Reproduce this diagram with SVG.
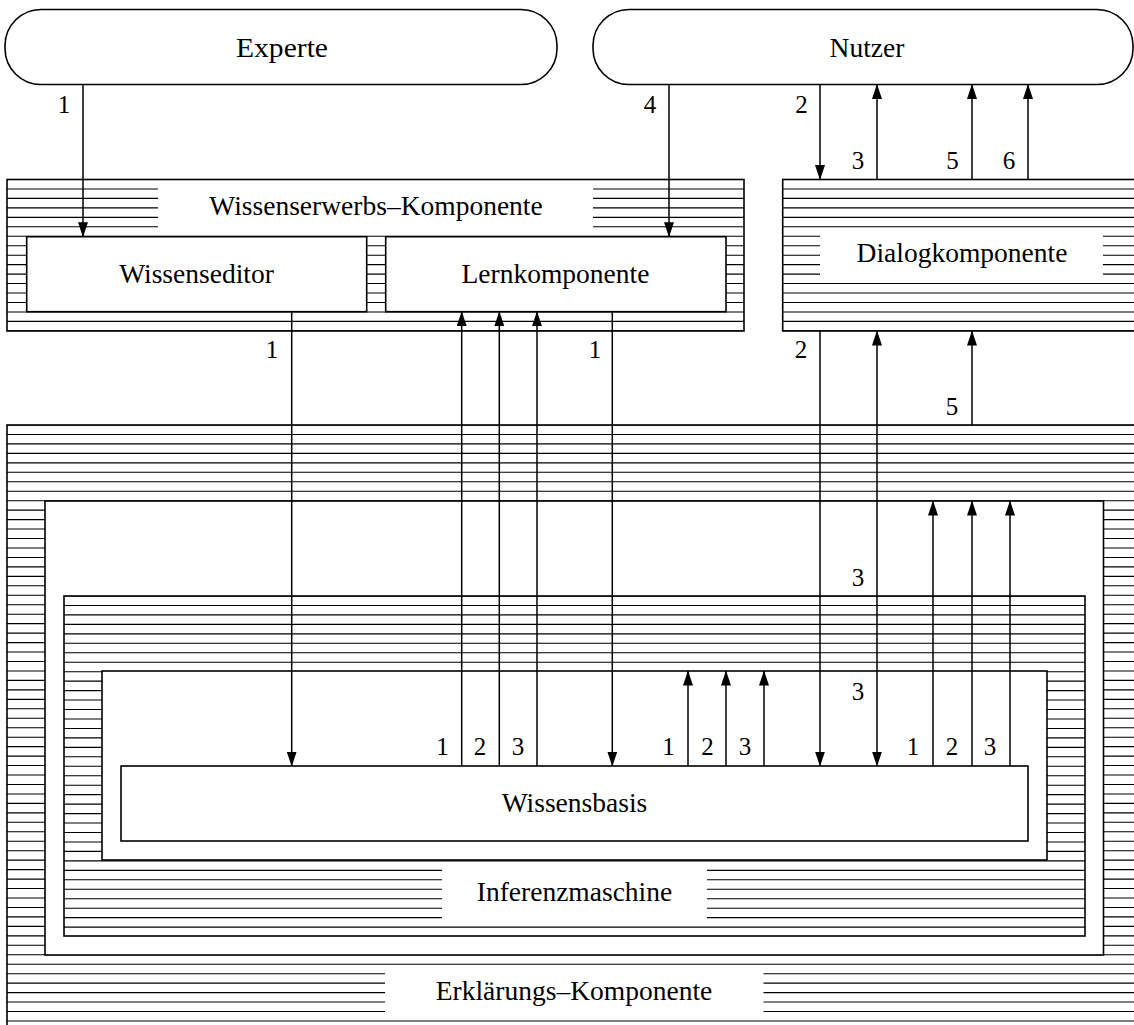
<svg xmlns="http://www.w3.org/2000/svg" width="1134" height="1025" viewBox="0 0 1134 1025">
  <defs>
    <style>
      .box{fill:#fff;stroke:#000;stroke-width:1.6}
      .frame{fill:none;stroke:#000;stroke-width:1.6}
      .hatch{fill:none;stroke:#000;stroke-dasharray:1.1 8.36;stroke-dashoffset:0.55}
      .gap{fill:#fff;stroke:none}
      .con{fill:none;stroke:#000;stroke-width:1.5;marker-end:url(#arr)}
    </style>
    <marker id="arr" viewBox="0 0 15 10" refX="14.5" refY="5" markerWidth="15" markerHeight="10" markerUnits="userSpaceOnUse" orient="auto">
      <path d="M0,0 L15,5 L0,10 z" fill="#000"/>
    </marker>
  </defs>

  <rect width="1134" height="1025" fill="#fff"/>

  <g font-family="Liberation Serif, serif" font-size="27.5" text-anchor="middle" fill="#000">

  <!-- outer shell: explanation component (runs off the right and bottom edges) -->
  <g id="erklaerung">
    <line class="hatch" x1="576" y1="425" x2="576" y2="1030" stroke-width="1138"/>
    <rect class="frame" x="7" y="425" width="1150" height="620"/>
    <rect class="box" x="45" y="501" width="1058.5" height="454"/>
    <rect class="gap" x="385" y="969" width="378.5" height="47"/>
    <text x="574" y="1000">Erklärungs–Komponente</text>
  </g>

  <!-- inference engine -->
  <g id="inferenz">
    <line class="hatch" x1="574.5" y1="596" x2="574.5" y2="936" stroke-width="1021"/>
    <rect class="frame" x="64" y="596" width="1021" height="340"/>
    <rect class="box" x="102" y="671" width="945" height="189"/>
    <rect class="gap" x="442" y="865" width="265" height="56"/>
    <text x="574.5" y="901">Inferenzmaschine</text>
  </g>

  <!-- knowledge base -->
  <g id="wissensbasis">
    <rect class="box" x="121" y="766" width="907" height="75"/>
    <text x="574.5" y="812">Wissensbasis</text>
  </g>

  <!-- knowledge acquisition component -->
  <g id="wissenserwerb">
    <line class="hatch" x1="375.5" y1="179.5" x2="375.5" y2="331" stroke-width="737"/>
    <rect class="gap" x="158" y="181" width="435" height="53"/>
    <rect class="frame" x="7" y="179.5" width="737" height="151.5"/>
    <text x="376" y="215">Wissenserwerbs–Komponente</text>
  </g>

  <g id="wissenseditor">
    <rect class="box" x="26.7" y="236.7" width="340" height="75"/>
    <text x="196.5" y="283">Wissenseditor</text>
  </g>

  <g id="lernkomponente">
    <rect class="box" x="385.7" y="236.7" width="340.3" height="75"/>
    <text x="555.5" y="283">Lernkomponente</text>
  </g>

  <!-- dialog component (runs off the right edge) -->
  <g id="dialog">
    <line class="hatch" x1="964" y1="179.5" x2="964" y2="331" stroke-width="364"/>
    <rect class="gap" x="820" y="230" width="283" height="49"/>
    <rect class="frame" x="782.7" y="179.5" width="400" height="151.5"/>
    <text x="962" y="261.5">Dialogkomponente</text>
  </g>

  <!-- actors -->
  <g id="experte">
    <rect class="box" x="5" y="9.5" width="552" height="75" rx="36" ry="36"/>
    <text x="282" y="57.3" textLength="92" lengthAdjust="spacingAndGlyphs">Experte</text>
  </g>

  <g id="nutzer">
    <rect class="box" x="593" y="9.5" width="540" height="75" rx="36" ry="36"/>
    <text x="867" y="57.3">Nutzer</text>
  </g>

  <!-- information flows -->
  <g id="connectors">
    <path class="con" d="M83,84.5 V236.7"/>
    <path class="con" d="M669,84.5 V236.7"/>
    <path class="con" d="M820,84.5 V179.5"/>
    <path class="con" d="M877,179.5 V84.5"/>
    <path class="con" d="M972,179.5 V84.5"/>
    <path class="con" d="M1028,179.5 V84.5"/>

    <path class="con" d="M291.7,311.7 V766"/>
    <path class="con" d="M461.7,766 V311.7"/>
    <path class="con" d="M499.3,766 V311.7"/>
    <path class="con" d="M537,766 V311.7"/>
    <path class="con" d="M612.3,311.7 V766"/>

    <path class="con" d="M688,766 V671"/>
    <path class="con" d="M726,766 V671"/>
    <path class="con" d="M764,766 V671"/>

    <path class="con" d="M820,331 V766"/>
    <path class="con" d="M877,596 V331"/>
    <path class="con" d="M877,596 V766"/>

    <path class="con" d="M933,766 V501"/>
    <path class="con" d="M972,766 V501"/>
    <path class="con" d="M1010,766 V501"/>

    <path class="con" d="M972,425 V331"/>
  </g>

  <!-- flow numbers -->
  <g id="flow-labels" font-size="25">
    <text x="64" y="113">1</text>
    <text x="650" y="113">4</text>
    <text x="801.5" y="113">2</text>
    <text x="858" y="169">3</text>
    <text x="952.5" y="169">5</text>
    <text x="1009" y="169">6</text>

    <text x="272" y="358">1</text>
    <text x="595" y="358">1</text>
    <text x="801" y="358">2</text>
    <text x="952" y="415">5</text>
    <text x="858" y="586">3</text>
    <text x="858" y="700">3</text>

    <text x="442.5" y="755">1</text>
    <text x="480" y="755">2</text>
    <text x="518" y="755">3</text>
    <text x="668.5" y="755">1</text>
    <text x="707.5" y="755">2</text>
    <text x="745" y="755">3</text>
    <text x="913" y="755">1</text>
    <text x="952" y="755">2</text>
    <text x="990" y="755">3</text>
  </g>

  </g>
</svg>
